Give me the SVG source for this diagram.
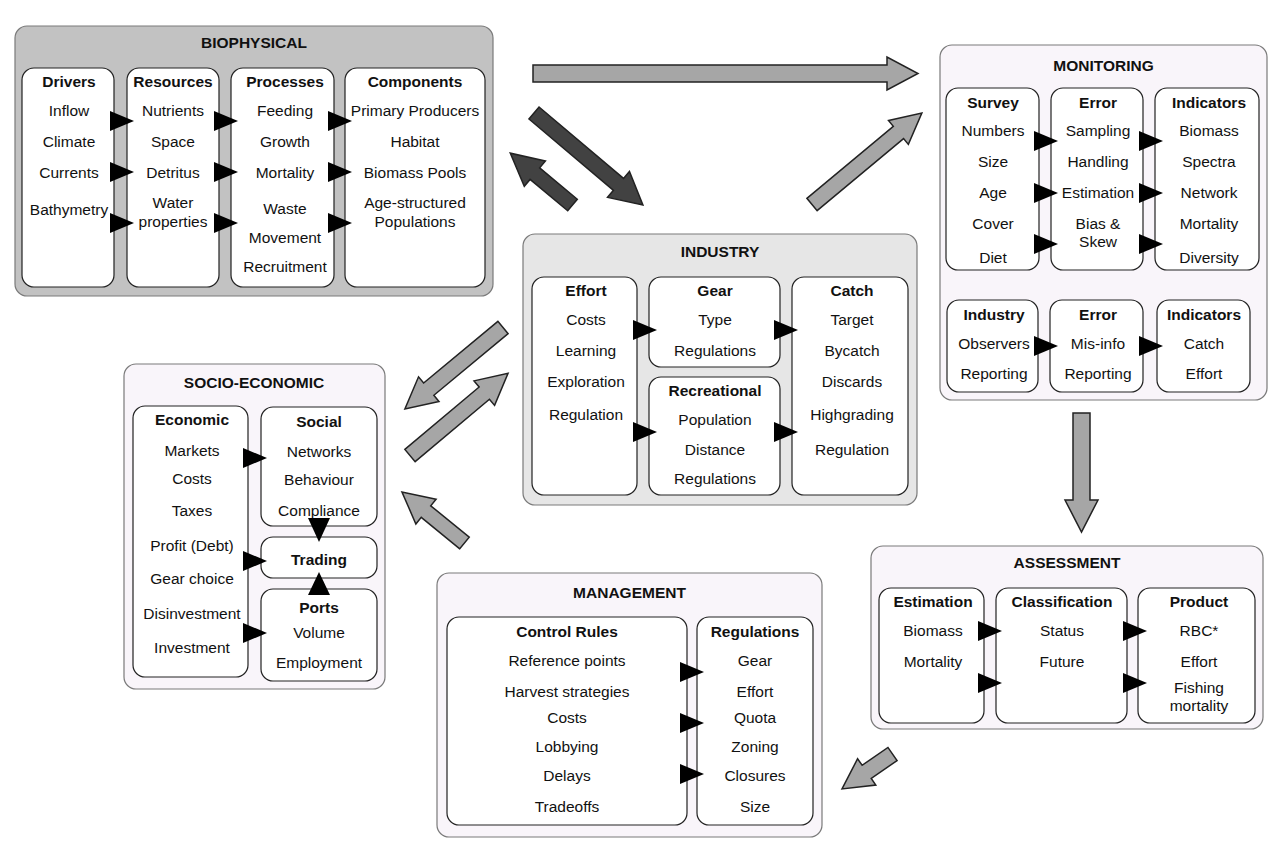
<svg xmlns="http://www.w3.org/2000/svg" width="1273" height="841" viewBox="0 0 1273 841">
<style>
text{font-family:"Liberation Sans",Arial,Helvetica,sans-serif;font-size:15.5px;fill:#111;text-anchor:middle;dominant-baseline:central}
.h{font-weight:bold}
.outer{stroke:#7a7a7a;stroke-width:1.2}
.bio{fill:#c2c2c2}
.ind{fill:#e6e6e6}
.lav{fill:#f9f5fa}
.box{fill:#fff;stroke:#222;stroke-width:1.2}
.big{stroke:#222;stroke-width:1.5;stroke-linejoin:miter}
.dark{fill:#424242}
.light{fill:#a6a6a6}
.tri{fill:#000}
</style>
<defs>
<path id="tri" d="M0,-10 L24,0 L0,10 Z"/>
</defs>

<g id="biophysical">
<rect class="outer bio" x="15" y="26" width="478" height="270" rx="12"/>
<text class="h" x="254" y="42">BIOPHYSICAL</text>
<rect class="box" x="22" y="68" width="92" height="219" rx="12"/>
<rect class="box" x="127" y="68" width="92" height="219" rx="12"/>
<rect class="box" x="231" y="68" width="103" height="219" rx="12"/>
<rect class="box" x="345" y="68" width="140" height="219" rx="12"/>
<text class="h" x="69" y="81">Drivers</text>
<text x="69" y="110">Inflow</text>
<text x="69" y="141">Climate</text>
<text x="69" y="172">Currents</text>
<text x="69" y="209">Bathymetry</text>
<text class="h" x="173" y="81">Resources</text>
<text x="173" y="110">Nutrients</text>
<text x="173" y="141">Space</text>
<text x="173" y="172">Detritus</text>
<text x="173" y="202">Water</text>
<text x="173" y="221">properties</text>
<text class="h" x="285" y="81">Processes</text>
<text x="285" y="110">Feeding</text>
<text x="285" y="141">Growth</text>
<text x="285" y="172">Mortality</text>
<text x="285" y="208">Waste</text>
<text x="285" y="237">Movement</text>
<text x="285" y="266">Recruitment</text>
<text class="h" x="415" y="81">Components</text>
<text x="415" y="110">Primary Producers</text>
<text x="415" y="141">Habitat</text>
<text x="415" y="172">Biomass Pools</text>
<text x="415" y="202">Age-structured</text>
<text x="415" y="221">Populations</text>
<g class="tri">
<use href="#tri" x="110" y="121"/><use href="#tri" x="110" y="172"/><use href="#tri" x="110" y="223"/>
<use href="#tri" x="214" y="121"/><use href="#tri" x="214" y="172"/><use href="#tri" x="214" y="223"/>
<use href="#tri" x="328" y="121"/><use href="#tri" x="328" y="172"/><use href="#tri" x="328" y="223"/>
</g>
</g>

<g id="monitoring">
<rect class="outer lav" x="940" y="45" width="327" height="355" rx="12"/>
<text class="h" x="1103.5" y="65">MONITORING</text>
<rect class="box" x="946" y="88" width="93" height="182" rx="12"/>
<rect class="box" x="1051" y="88" width="92" height="182" rx="12"/>
<rect class="box" x="1155" y="88" width="104" height="182" rx="12"/>
<text class="h" x="993" y="102">Survey</text>
<text x="993" y="130">Numbers</text>
<text x="993" y="161">Size</text>
<text x="993" y="192">Age</text>
<text x="993" y="223">Cover</text>
<text x="993" y="257">Diet</text>
<text class="h" x="1098" y="102">Error</text>
<text x="1098" y="130">Sampling</text>
<text x="1098" y="161">Handling</text>
<text x="1098" y="192">Estimation</text>
<text x="1098" y="223">Bias &amp;</text>
<text x="1098" y="241">Skew</text>
<text class="h" x="1209" y="102">Indicators</text>
<text x="1209" y="130">Biomass</text>
<text x="1209" y="161">Spectra</text>
<text x="1209" y="192">Network</text>
<text x="1209" y="223">Mortality</text>
<text x="1209" y="257">Diversity</text>
<rect class="box" x="947" y="300" width="91" height="92" rx="12"/>
<rect class="box" x="1050" y="300" width="93" height="92" rx="12"/>
<rect class="box" x="1157" y="300" width="93" height="92" rx="12"/>
<text class="h" x="994" y="314">Industry</text>
<text x="994" y="343">Observers</text>
<text x="994" y="373">Reporting</text>
<text class="h" x="1098" y="314">Error</text>
<text x="1098" y="343">Mis-info</text>
<text x="1098" y="373">Reporting</text>
<text class="h" x="1204" y="314">Indicators</text>
<text x="1204" y="343">Catch</text>
<text x="1204" y="373">Effort</text>
<g class="tri">
<use href="#tri" x="1034" y="141"/><use href="#tri" x="1034" y="193"/><use href="#tri" x="1034" y="244"/>
<use href="#tri" x="1139" y="141"/><use href="#tri" x="1139" y="193"/><use href="#tri" x="1139" y="244"/>
<use href="#tri" x="1034" y="346"/><use href="#tri" x="1139" y="346"/>
</g>
</g>

<g id="industry">
<rect class="outer ind" x="523" y="234" width="394" height="271" rx="12"/>
<text class="h" x="720" y="251">INDUSTRY</text>
<rect class="box" x="532" y="277" width="105" height="218" rx="12"/>
<rect class="box" x="649" y="277" width="131" height="90" rx="12"/>
<rect class="box" x="649" y="377" width="131" height="118" rx="12"/>
<rect class="box" x="792" y="277" width="116" height="218" rx="12"/>
<text class="h" x="586" y="290">Effort</text>
<text x="586" y="319">Costs</text>
<text x="586" y="350">Learning</text>
<text x="586" y="381">Exploration</text>
<text x="586" y="414">Regulation</text>
<text class="h" x="715" y="290">Gear</text>
<text x="715" y="319">Type</text>
<text x="715" y="350">Regulations</text>
<text class="h" x="715" y="390">Recreational</text>
<text x="715" y="419">Population</text>
<text x="715" y="449">Distance</text>
<text x="715" y="478">Regulations</text>
<text class="h" x="852" y="290">Catch</text>
<text x="852" y="319">Target</text>
<text x="852" y="350">Bycatch</text>
<text x="852" y="381">Discards</text>
<text x="852" y="414">Highgrading</text>
<text x="852" y="449">Regulation</text>
<g class="tri">
<use href="#tri" x="633" y="330"/><use href="#tri" x="633" y="432"/>
<use href="#tri" x="774" y="330"/><use href="#tri" x="774" y="432"/>
</g>
</g>

<g id="socio-economic">
<rect class="outer lav" x="124" y="364" width="261" height="325" rx="12"/>
<text class="h" x="254" y="382">SOCIO-ECONOMIC</text>
<rect class="box" x="133" y="406" width="115" height="271" rx="12"/>
<rect class="box" x="261" y="407" width="116" height="119" rx="12"/>
<rect class="box" x="261" y="537" width="116" height="41" rx="12"/>
<rect class="box" x="261" y="589" width="116" height="92" rx="12"/>
<text class="h" x="192" y="419">Economic</text>
<text x="192" y="450">Markets</text>
<text x="192" y="478">Costs</text>
<text x="192" y="510">Taxes</text>
<text x="192" y="545">Profit (Debt)</text>
<text x="192" y="578">Gear choice</text>
<text x="192" y="613">Disinvestment</text>
<text x="192" y="647">Investment</text>
<text class="h" x="319" y="421">Social</text>
<text x="319" y="451">Networks</text>
<text x="319" y="479">Behaviour</text>
<text x="319" y="510">Compliance</text>
<text class="h" x="319" y="559">Trading</text>
<text class="h" x="319" y="607">Ports</text>
<text x="319" y="632">Volume</text>
<text x="319" y="662">Employment</text>
<g class="tri">
<use href="#tri" x="243" y="458"/><use href="#tri" x="243" y="561"/><use href="#tri" x="243" y="633"/>
<path d="M308,518 L330,518 L319,542 Z"/>
<path d="M308,595 L330,595 L319,572 Z"/>
</g>
</g>

<g id="management">
<rect class="outer lav" x="437" y="573" width="385" height="264" rx="12"/>
<text class="h" x="629.5" y="592">MANAGEMENT</text>
<rect class="box" x="447" y="617" width="240" height="208" rx="12"/>
<rect class="box" x="697" y="617" width="116" height="208" rx="12"/>
<text class="h" x="567" y="631">Control Rules</text>
<text x="567" y="660">Reference points</text>
<text x="567" y="691">Harvest strategies</text>
<text x="567" y="717">Costs</text>
<text x="567" y="746">Lobbying</text>
<text x="567" y="775">Delays</text>
<text x="567" y="806">Tradeoffs</text>
<text class="h" x="755" y="631">Regulations</text>
<text x="755" y="660">Gear</text>
<text x="755" y="691">Effort</text>
<text x="755" y="717">Quota</text>
<text x="755" y="746">Zoning</text>
<text x="755" y="775">Closures</text>
<text x="755" y="806">Size</text>
<g class="tri">
<use href="#tri" x="680" y="672"/><use href="#tri" x="680" y="723"/><use href="#tri" x="680" y="774"/>
</g>
</g>

<g id="assessment">
<rect class="outer lav" x="871" y="546" width="392" height="183" rx="12"/>
<text class="h" x="1067" y="562">ASSESSMENT</text>
<rect class="box" x="879" y="588" width="105" height="135" rx="12"/>
<rect class="box" x="996" y="588" width="131" height="135" rx="12"/>
<rect class="box" x="1138" y="588" width="117" height="135" rx="12"/>
<text class="h" x="933" y="601">Estimation</text>
<text x="933" y="630">Biomass</text>
<text x="933" y="661">Mortality</text>
<text class="h" x="1062" y="601">Classification</text>
<text x="1062" y="630">Status</text>
<text x="1062" y="661">Future</text>
<text class="h" x="1199" y="601">Product</text>
<text x="1199" y="630">RBC*</text>
<text x="1199" y="661">Effort</text>
<text x="1199" y="687">Fishing</text>
<text x="1199" y="705">mortality</text>
<g class="tri">
<use href="#tri" x="978" y="631"/><use href="#tri" x="978" y="683"/>
<use href="#tri" x="1123" y="631"/><use href="#tri" x="1123" y="683"/>
</g>
</g>

<g id="connectors">
<polygon class="big light" transform="translate(533,73.5)" points="0,-8.5 354,-8.5 354,-16.5 385,0 354,16.5 354,8.5 0,8.5"/>
<polygon class="big dark" transform="translate(534,113) rotate(40.2)" points="0,-7.8 110.6,-7.8 110.6,-17 142.6,0 110.6,17 110.6,7.8 0,7.8"/>
<polygon class="big dark" transform="translate(572.5,205) rotate(219.8)" points="0,-7.5 49,-7.5 49,-16.5 81,0 49,16.5 49,7.5 0,7.5"/>
<polygon class="big light" transform="translate(812,204.5) rotate(-39.8)" points="0,-8 112.5,-8 112.5,-15.5 143,0 112.5,15.5 112.5,8 0,8"/>
<polygon class="big light" transform="translate(503,327.5) rotate(140.3)" points="0,-8 96.5,-8 96.5,-16 127.5,0 96.5,16 96.5,8 0,8"/>
<polygon class="big light" transform="translate(410,455.5) rotate(-40)" points="0,-8 97,-8 97,-16 128,0 97,16 97,8 0,8"/>
<polygon class="big light" transform="translate(464.5,543) rotate(219.2)" points="0,-7.5 49.7,-7.5 49.7,-16 80.7,0 49.7,16 49.7,7.5 0,7.5"/>
<polygon class="big light" transform="translate(1081.5,413) rotate(90)" points="0,-8.5 87,-8.5 87,-16.5 119,0 87,16.5 87,8.5 0,8.5"/>
<polygon class="big light" transform="translate(892.5,754) rotate(145.3)" points="0,-8 31.4,-8 31.4,-16 61.4,0 31.4,16 31.4,8 0,8"/>
</g>
</svg>
